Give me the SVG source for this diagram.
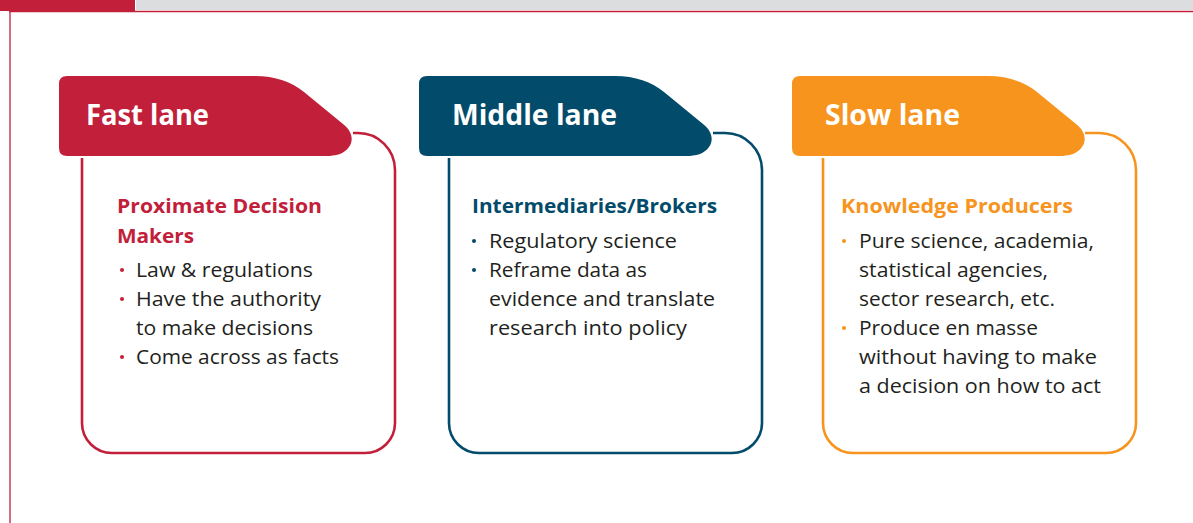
<svg xmlns="http://www.w3.org/2000/svg" width="1193" height="523" viewBox="0 0 1193 523">
<style>
.title{font-family:"Open Sans","Noto Sans","Liberation Sans",sans-serif;font-weight:700;font-size:28px;fill:#ffffff}
.head{font-family:"Open Sans","Noto Sans","Liberation Sans",sans-serif;font-weight:700;font-size:20px}
.body{font-family:"Open Sans","Noto Sans","Liberation Sans",sans-serif;font-size:20px;fill:#231f20}
.card{fill:none;stroke-width:2.6}
.red{fill:#c2203a}.blue{fill:#024b6a}.orange{fill:#f7941d}
.sred{stroke:#c2203a}.sblue{stroke:#024b6a}.sorange{stroke:#f7941d}
</style>
<defs>
<path id="tab" d="M0,8 Q0,0 8,0 H196 C216,0 233,6 245,16 L284,48 C293,55 295,64 290,71 C285,78 277,80 267,80 H8 Q0,80 0,72 Z"/>
</defs>
<rect width="1193" height="523" fill="#ffffff"/>
<g id="header">
<rect x="0" y="0" width="135" height="11" class="red"/>
<rect x="136" y="0" width="1057" height="10" fill="#dcdddf"/>
<line x1="9" y1="11.5" x2="1193" y2="11.5" stroke="#c2203a" stroke-width="1.3"/>
<line x1="10" y1="11" x2="10" y2="523" stroke="#c2203a" stroke-width="1.3"/>
</g>
<g id="fast-lane">
<use href="#tab" x="59" y="76" class="red"/>
<path class="card sred" d="M353,133 H358 A37,37 0 0 1 395,170 V423 A30,30 0 0 1 365,453 H112 A30,30 0 0 1 82,423 V158"/>
<text class="title" x="86" y="125" textLength="123" lengthAdjust="spacingAndGlyphs">Fast lane</text>
<text class="head" x="117" y="213" fill="#c2203a" textLength="205" lengthAdjust="spacingAndGlyphs">Proximate Decision</text>
<text class="head" x="117" y="243" fill="#c2203a" textLength="77" lengthAdjust="spacingAndGlyphs">Makers</text>
<g class="body">
<circle cx="122" cy="270" r="2" fill="#c2203a"/>
<text x="136" y="277" textLength="177" lengthAdjust="spacingAndGlyphs">Law &amp; regulations</text>
<circle cx="122" cy="299" r="2" fill="#c2203a"/>
<text x="136" y="306" textLength="185" lengthAdjust="spacingAndGlyphs">Have the authority</text>
<text x="136" y="335" textLength="177" lengthAdjust="spacingAndGlyphs">to make decisions</text>
<circle cx="122" cy="357" r="2" fill="#c2203a"/>
<text x="136" y="364" textLength="203" lengthAdjust="spacingAndGlyphs">Come across as facts</text>
</g>
</g>
<g id="middle-lane">
<use href="#tab" x="419" y="76" class="blue"/>
<path class="card sblue" d="M713,133 H725 A37,37 0 0 1 762,170 V423 A30,30 0 0 1 732,453 H479 A30,30 0 0 1 449,423 V158"/>
<text class="title" x="452" y="125" textLength="165" lengthAdjust="spacingAndGlyphs">Middle lane</text>
<text class="head" x="472" y="213" fill="#024b6a" textLength="245" lengthAdjust="spacingAndGlyphs">Intermediaries/Brokers</text>
<g class="body">
<circle cx="474" cy="241" r="2" fill="#024b6a"/>
<text x="489" y="248" textLength="188" lengthAdjust="spacingAndGlyphs">Regulatory science</text>
<circle cx="474" cy="270" r="2" fill="#024b6a"/>
<text x="489" y="277" textLength="158" lengthAdjust="spacingAndGlyphs">Reframe data as</text>
<text x="489" y="306" textLength="226" lengthAdjust="spacingAndGlyphs">evidence and translate</text>
<text x="489" y="335" textLength="198" lengthAdjust="spacingAndGlyphs">research into policy</text>
</g>
</g>
<g id="slow-lane">
<use href="#tab" x="792" y="76" class="orange"/>
<path class="card sorange" d="M1085,133 H1099 A37,37 0 0 1 1136,170 V423 A30,30 0 0 1 1106,453 H853 A30,30 0 0 1 823,423 V158"/>
<text class="title" x="825" y="125" textLength="135" lengthAdjust="spacingAndGlyphs">Slow lane</text>
<text class="head" x="841" y="213" fill="#f7941d" textLength="232" lengthAdjust="spacingAndGlyphs">Knowledge Producers</text>
<g class="body">
<circle cx="844" cy="241" r="2" fill="#f7941d"/>
<text x="859" y="248" textLength="235" lengthAdjust="spacingAndGlyphs">Pure science, academia,</text>
<text x="859" y="277" textLength="189" lengthAdjust="spacingAndGlyphs">statistical agencies,</text>
<text x="859" y="306" textLength="196" lengthAdjust="spacingAndGlyphs">sector research, etc.</text>
<circle cx="844" cy="328" r="2" fill="#f7941d"/>
<text x="859" y="335" textLength="179" lengthAdjust="spacingAndGlyphs">Produce en masse</text>
<text x="859" y="364" textLength="238" lengthAdjust="spacingAndGlyphs">without having to make</text>
<text x="859" y="393" textLength="242" lengthAdjust="spacingAndGlyphs">a decision on how to act</text>
</g>
</g>
<g id="connectors"/>
</svg>
